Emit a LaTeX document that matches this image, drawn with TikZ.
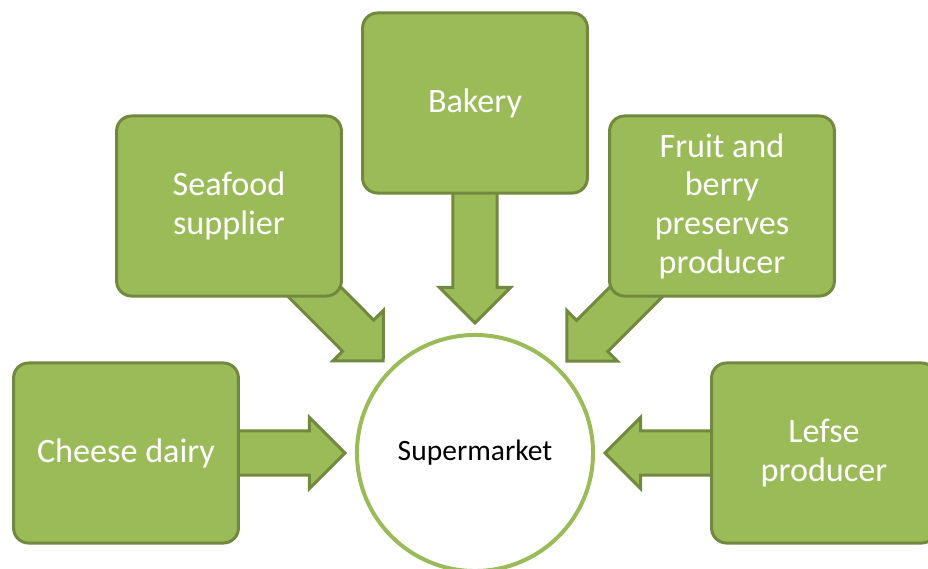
\documentclass[tikz,border=0pt]{standalone}
\usepackage{fontspec}
\setmainfont{Carlito}
\usetikzlibrary{calc,backgrounds}
\definecolor{leaf}{HTML}{9BBB59}
\definecolor{leafdark}{HTML}{71893F}
% block arrow from a supplier box towards the hub
\newcommand{\feed}[2]{%
  \coordinate (#1tip) at ($(#2)!3.25cm!(#1)$);
  \coordinate (#1neck) at ($(#1tip)!0.89cm!(#1)$);
  \draw[flow] ($(#1)!0.55cm!90:(#1tip)$) -- ($(#1neck)!0.55cm!90:(#1tip)$)
    -- ($(#1neck)!0.89cm!90:(#1tip)$) -- (#1tip)
    -- ($(#1neck)!0.89cm!-90:(#1tip)$) -- ($(#1neck)!0.55cm!-90:(#1tip)$)
    -- ($(#1)!0.55cm!-90:(#1tip)$) -- cycle;}
\begin{document}
\begin{tikzpicture}[x=0.025cm, y=0.025cm,
  supplier/.style={draw=leafdark, fill=leaf, line width=0.075cm, rounded corners=0.375cm,
    minimum width=5.62cm, minimum height=4.5cm, text=white, align=center,
    font=\fontsize{24.3}{27.5}\selectfont},
  flow/.style={draw=leafdark, fill=leaf, line width=0.075cm, line join=miter},
  store/.style={circle, draw=leaf, fill=white, line width=0.1cm, minimum size=5.9cm,
    font=\fontsize{21}{25}\selectfont}]
\useasboundingbox (0,0) rectangle (928,568);
\node[store] (hub) at (475,115) {Supermarket};
\node[supplier] (cheese) at (126,115) {Cheese dairy};
\node[supplier] (seafood) at (229,362) {Seafood\\supplier};
\node[supplier] (bakery) at (475,465) {Bakery};
\node[supplier] (fruit) at (722,362) {Fruit and\\berry\\preserves\\producer};
\node[supplier] (lefse) at (824,115) {Lefse\\producer};
\begin{scope}[on background layer]
\feed{cheese}{hub}
\feed{seafood}{hub}
\feed{bakery}{hub}
\feed{fruit}{hub}
\feed{lefse}{hub}
\end{scope}
\end{tikzpicture}
\end{document}
